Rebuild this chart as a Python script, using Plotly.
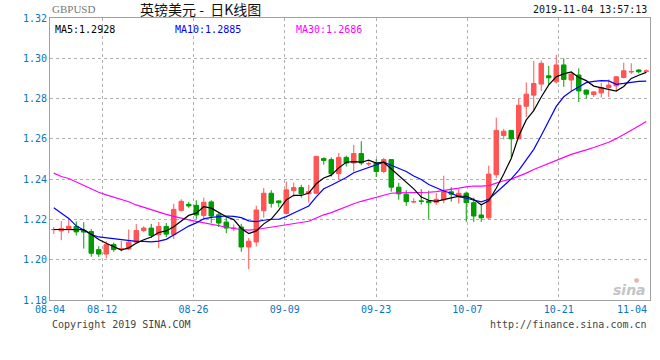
import datetime
import plotly.graph_objects as go

# ---- data ----
opens = [1.2149,1.2143,1.2152,1.2165,1.2145,1.2140,1.2050,1.2028,1.2075,1.2053,
         1.2053,1.2087,1.2145,1.2157,1.2124,1.2165,1.2125,1.2245,1.2275,1.2270,
         1.2220,1.2287,1.2223,1.2187,1.2155,1.2162,1.2063,1.2088,1.2243,1.2330,
         1.2292,1.2230,1.2343,1.2358,1.2327,1.2330,1.2502,1.2497,1.2427,1.2508,
         1.2480,1.2527,1.2476,1.2480,1.2438,1.2497,1.2360,1.2325,1.2287,1.2292,
         1.2292,1.2285,1.2297,1.2337,1.2312,1.2330,1.2283,1.2222,1.2208,1.2422,
         1.2617,1.2642,1.2600,1.2762,1.2817,1.2872,1.2913,1.2883,1.2967,1.2892,
         1.2917,1.2842,1.2820,1.2828,1.2855,1.2863,1.2905,1.2932,1.2942,1.2935]
highs = [1.2162,1.2192,1.2209,1.2190,1.2186,1.2152,1.2067,1.2092,1.2085,1.2093,
         1.2150,1.2177,1.2166,1.2178,1.2187,1.2182,1.2278,1.2300,1.2287,1.2295,
         1.2308,1.2295,1.2237,1.2212,1.2175,1.2178,1.2108,1.2268,1.2356,1.2345,
         1.2294,1.2388,1.2383,1.2372,1.2372,1.2515,1.2508,1.2508,1.2530,1.2517,
         1.2570,1.2588,1.2488,1.2500,1.2505,1.2498,1.2382,1.2345,1.2305,1.2350,
         1.2343,1.2330,1.2417,1.2360,1.2350,1.2338,1.2308,1.2275,1.2467,1.2705,
         1.2650,1.2643,1.2800,1.2880,1.2987,1.2988,1.2962,1.3017,1.3000,1.2928,
         1.2950,1.2845,1.2836,1.2878,1.2895,1.2912,1.2978,1.2975,1.2945,1.2945]
lows = [1.2128,1.2097,1.2132,1.2120,1.2055,1.2015,1.2014,1.2007,1.2040,1.2041,
        1.2047,1.2079,1.2137,1.2108,1.2057,1.2112,1.2103,1.2240,1.2258,1.2203,
        1.2198,1.2182,1.2162,1.2132,1.2142,1.2040,1.1953,1.2066,1.2209,1.2259,
        1.2260,1.2225,1.2313,1.2308,1.2283,1.2325,1.2472,1.2413,1.2397,1.2463,
        1.2438,1.2470,1.2465,1.2411,1.2430,1.2338,1.2298,1.2268,1.2281,1.2274,
        1.2203,1.2272,1.2280,1.2288,1.2278,1.2188,1.2188,1.2188,1.2200,1.2405,
        1.2597,1.2508,1.2598,1.2708,1.2742,1.2838,1.2867,1.2875,1.2858,1.2838,
        1.2783,1.2800,1.2808,1.2805,1.2808,1.2837,1.2900,1.2922,1.2925,1.2928]
closes = [1.2150,1.2155,1.2166,1.2138,1.2137,1.2032,1.2028,1.2075,1.2050,1.2055,
          1.2087,1.2145,1.2157,1.2120,1.2165,1.2127,1.2250,1.2290,1.2267,1.2222,
          1.2285,1.2217,1.2182,1.2157,1.2157,1.2063,1.2092,1.2247,1.2330,1.2280,
          1.2283,1.2347,1.2358,1.2327,1.2338,1.2513,1.2493,1.2427,1.2508,1.2480,
          1.2527,1.2480,1.2477,1.2438,1.2497,1.2360,1.2327,1.2288,1.2288,1.2290,
          1.2283,1.2300,1.2338,1.2325,1.2330,1.2283,1.2217,1.2208,1.2425,1.2642,
          1.2638,1.2600,1.2767,1.2822,1.2875,1.2975,1.2903,1.2967,1.2895,1.2922,
          1.2838,1.2822,1.2833,1.2855,1.2867,1.2908,1.2938,1.2934,1.2933,1.2937]
ma5 = [1.2150,1.2150,1.2150,1.2150,1.2149,1.2126,1.2100,1.2082,1.2064,1.2048,
       1.2059,1.2082,1.2099,1.2113,1.2135,1.2143,1.2164,1.2190,1.2220,1.2231,
       1.2263,1.2256,1.2235,1.2213,1.2199,1.2155,1.2130,1.2143,1.2178,1.2202,
       1.2246,1.2297,1.2320,1.2319,1.2331,1.2377,1.2406,1.2420,1.2456,1.2484,
       1.2487,1.2484,1.2494,1.2480,1.2484,1.2450,1.2420,1.2382,1.2352,1.2311,
       1.2295,1.2290,1.2300,1.2307,1.2315,1.2315,1.2299,1.2273,1.2293,1.2355,
       1.2426,1.2503,1.2614,1.2694,1.2740,1.2808,1.2868,1.2908,1.2923,1.2932,
       1.2905,1.2889,1.2862,1.2854,1.2843,1.2837,1.2860,1.2900,1.2916,1.2930]
ma10 = [1.2258,1.2230,1.2205,1.2168,1.2147,1.2125,1.2113,1.2108,1.2105,1.2099,
        1.2093,1.2091,1.2091,1.2089,1.2092,1.2101,1.2123,1.2145,1.2167,1.2183,
        1.2203,1.2210,1.2213,1.2217,1.2215,1.2209,1.2193,1.2189,1.2196,1.2201,
        1.2201,1.2214,1.2232,1.2249,1.2267,1.2312,1.2352,1.2370,1.2388,1.2408,
        1.2432,1.2445,1.2457,1.2468,1.2484,1.2469,1.2452,1.2438,1.2416,1.2398,
        1.2373,1.2355,1.2341,1.2330,1.2313,1.2305,1.2295,1.2287,1.2300,1.2335,
        1.2371,1.2401,1.2444,1.2494,1.2548,1.2617,1.2686,1.2761,1.2809,1.2836,
        1.2857,1.2879,1.2885,1.2889,1.2888,1.2871,1.2875,1.2881,1.2885,1.2887]
ma30 = [1.2430,1.2413,1.2403,1.2385,1.2368,1.2350,1.2335,1.2322,1.2310,1.2300,
        1.2288,1.2272,1.2260,1.2246,1.2235,1.2225,1.2215,1.2208,1.2198,1.2190,
        1.2183,1.2175,1.2168,1.2160,1.2155,1.2150,1.2147,1.2150,1.2156,1.2161,
        1.2165,1.2172,1.2178,1.2184,1.2191,1.2207,1.2223,1.2234,1.2250,1.2264,
        1.2278,1.2290,1.2300,1.2311,1.2322,1.2330,1.2332,1.2332,1.2333,1.2335,
        1.2335,1.2338,1.2343,1.2349,1.2355,1.2362,1.2366,1.2365,1.2368,1.2380,
        1.2392,1.2400,1.2414,1.2430,1.2448,1.2464,1.2477,1.2495,1.2508,1.2523,
        1.2533,1.2545,1.2557,1.2570,1.2583,1.2601,1.2621,1.2643,1.2664,1.2686]
date_labels = ["08-04", "08-12", "08-26", "09-09", "09-23", "10-07", "10-21", "11-04"]
y_ticks = [1.18, 1.20, 1.22, 1.24, 1.26, 1.28, 1.30, 1.32]

n = len(closes)
idx = list(range(n))

# date axis: labels are laid out linearly in calendar time across the candle area
d0 = datetime.date(2019, 8, 4)
dN = datetime.date(2019, 11, 4)
span = (dN - d0).days
def date_pos(lbl):
    m, d = map(int, lbl.split("-"))
    days = (datetime.date(2019, m, d) - d0).days
    return -0.5 + n * days / span

tick_pos = [date_pos(l) for l in date_labels]
tick_txt = date_labels[:-1] + [""]

MONO = "DejaVu Sans Mono, Liberation Mono, monospace"
BLUE_TXT = "#0a74c4"
UP = "#ff5555"
DOWN = "#009c00"

fig = go.Figure()
fig.add_trace(go.Candlestick(
    x=idx, open=opens, high=highs, low=lows, close=closes,
    increasing=dict(line=dict(color=UP, width=1), fillcolor=UP),
    decreasing=dict(line=dict(color=DOWN, width=1), fillcolor=DOWN),
    whiskerwidth=0, showlegend=False, hoverinfo="skip",
))
fig.add_trace(go.Scatter(x=idx, y=ma30, mode="lines", line=dict(color="#ff00ff", width=1.2), showlegend=False, hoverinfo="skip"))
fig.add_trace(go.Scatter(x=idx, y=ma10, mode="lines", line=dict(color="#0000ff", width=1.2), showlegend=False, hoverinfo="skip"))
fig.add_trace(go.Scatter(x=idx, y=ma5, mode="lines", line=dict(color="#000000", width=1.2), showlegend=False, hoverinfo="skip"))

fig.update_layout(
    width=660, height=360,
    margin=dict(l=50, r=10, t=18, b=60, autoexpand=False),
    paper_bgcolor="white", plot_bgcolor="white",
    boxgap=0.15,
    showlegend=False,
    font=dict(family=MONO, size=10, color="#333"),
    xaxis=dict(
        range=[-0.5, n - 0.5], rangeslider=dict(visible=False), automargin=False,
        tickmode="array", tickvals=tick_pos, ticktext=tick_txt,
        showgrid=True, gridcolor="#b0b0b0", griddash="dot", gridwidth=1,
        showline=True, linecolor="#a0a0a0", linewidth=1, mirror=True,
        ticks="", zeroline=False,
        tickfont=dict(family=MONO, size=10, color=BLUE_TXT),
    ),
    yaxis=dict(
        range=[1.18, 1.32], tickmode="array", tickvals=y_ticks, automargin=False,
        ticktext=[f"{v:.2f}" for v in y_ticks],
        showgrid=True, gridcolor="#b0b0b0", griddash="dot", gridwidth=1,
        showline=True, linecolor="#a0a0a0", linewidth=1, mirror=True,
        ticks="", zeroline=False,
        tickfont=dict(family=MONO, size=10, color=BLUE_TXT),
    ),
)

NB = "\u00a0"
ann = [
    dict(text="GBPUSD", x=50, y=351, xanchor="left", font=dict(family="Liberation Serif, serif", size=11, color="#777")),
    dict(text="英镑美元" + NB + "-" + NB + NB + "日K线图", x=200, y=351, xanchor="center", font=dict(family="Noto Sans CJK SC", size=14, color="#111")),
    dict(text="2019-11-04 13:57:13", x=649, y=351, xanchor="right", font=dict(family=MONO, size=10, color="#111")),
    dict(text="MA5:1.2928", x=53, y=331, xanchor="left", font=dict(family=MONO, size=10, color="#000")),
    dict(text="MA10:1.2885", x=173, y=331, xanchor="left", font=dict(family=MONO, size=10, color="#0000ff")),
    dict(text="MA30:1.2686", x=294, y=331, xanchor="left", font=dict(family=MONO, size=10, color="#ff00ff")),
    dict(text="11-04", x=649, y=51, xanchor="right", font=dict(family=MONO, size=10, color=BLUE_TXT)),
    dict(text="Copyright 2019 SINA.COM", x=50, y=36, xanchor="left", font=dict(family=MONO, size=10, color="#444")),
    dict(text="http://finance.sina.com.cn", x=649, y=36, xanchor="right", font=dict(family=MONO, size=10, color="#444")),
    dict(text="<b><i>sina</i></b>", x=648, y=70, xanchor="right", font=dict(family="DejaVu Sans", size=14, color="#c4c4c4")),
    dict(text="●", x=636, y=81, xanchor="center", font=dict(family="DejaVu Sans", size=6, color="#eab0b0")),
]
for a in ann:
    a.update(xref="paper", yref="paper", yanchor="middle", showarrow=False)
    # pixel coords (from bottom-left of the figure) -> paper coords of the plot area
    a["x"] = (a["x"] - 50) / 600
    a["y"] = (a["y"] - 60) / 282
fig.update_layout(annotations=ann)

fig.write_html("out.html", config={"displayModeBar": False},
               post_script="document.body.style.margin='0';")
